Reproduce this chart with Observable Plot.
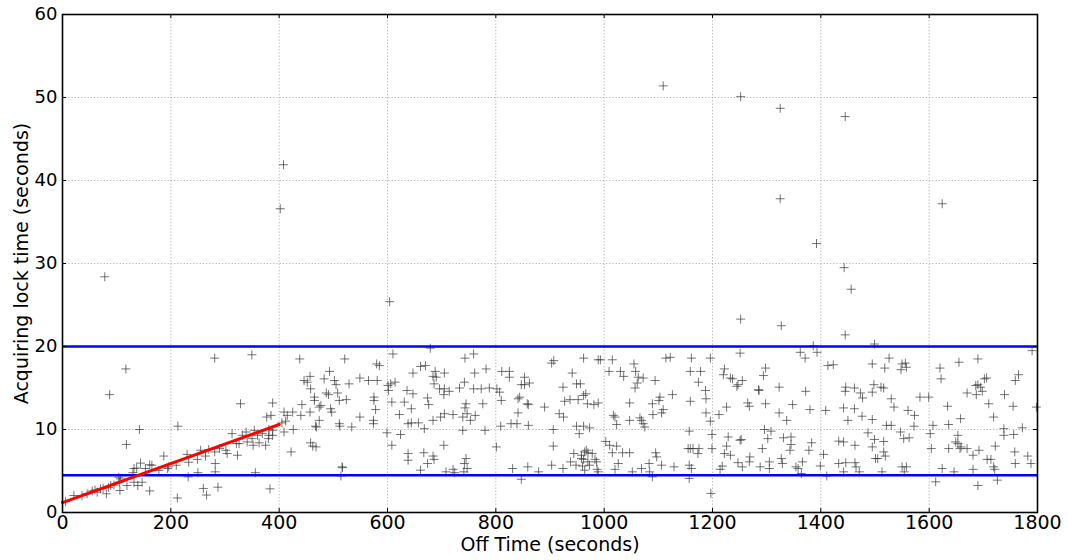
<!DOCTYPE html>
<html><head><meta charset="utf-8">
<script src="https://cdn.jsdelivr.net/npm/d3@7"></script>
<script src="https://cdn.jsdelivr.net/npm/@observablehq/plot@0.6"></script>
<style>body{margin:0;background:#fff} svg{display:block}</style>
</head><body><div id="chart"></div>
<script>
// Off time (s), acquiring lock time (s), by x range
const pts0to300 = [[5.5,1.3],[21,2.05],[36,2.05],[45.5,2.25],[55,2.6],[60,2.7],[64,2.45],[70,2.85],[75,2.9],[81,2.25],[85,3.0],[89,3.25],[95,3.3],[104,4.25],[105,3.65],[106,2.65],[107,4.05],[119,3.25],[132,3.65],[139,3.25],[147,3.65],[130,4.8],[132,5.3],[137,5.35],[144,5.95],[153,5.3],[161,5.75],[165,5.7],[178,5.05],[194,5.3],[196,5.5],[210,5.7],[233,6.05],[249,6.4],[264,6.8],[255,7.5],[270,7.6],[281,7.3],[290,7.7],[230,7.0],[187,6.8],[118,8.2],[142,10.0],[213,10.4],[117,17.3],[87,14.2],[281,18.6],[161,2.6],[212,1.75],[232,4.3],[250,4.8],[260,2.9],[266,2.1],[287,3.05],[282,4.9],[282,5.9],[78,28.4]];
const pts300to600 = [[313,9.5],[301.6,7.5],[304,7.1],[323,6.9],[321,8.3],[326,8.3],[332,9.3],[339,9.7],[341,8.5],[350,8.9],[352,8.1],[354,9.9],[360,9.3],[363,8.4],[369,9.5],[375,8.1],[380,8.9],[381,9.3],[388,9.3],[381,10.0],[388,9.9],[349.6,19.0],[328.6,13.1],[388,13.2],[385,11.7],[377,11.5],[409,12.1],[425,12.1],[415,11.7],[412,11.0],[405,10.8],[409,9.7],[426,10.0],[438,18.5],[521,18.5],[580,17.9],[585,17.7],[442,13.0],[440,11.7],[457,12.1],[446,15.9],[457,16.4],[452,15.7],[458,14.9],[465,13.9],[465,13.5],[474,12.7],[477,12.9],[483,16.1],[493,17.0],[502,15.9],[505,15.4],[487,14.4],[491,14.2],[508,14.4],[511,13.5],[524,13.6],[529,15.5],[495,12.5],[497,12.1],[474,11.1],[467,10.4],[469,10.3],[511,10.7],[512,10.4],[534,10.3],[549,16.2],[549,11.5],[565,15.9],[575,13.9],[575,13.5],[578,12.4],[574,11.1],[574,10.7],[581,15.9],[458,8.4],[462,8.0],[468,7.9],[422,7.3],[516,5.5],[517,5.4],[514,4.4],[356,4.8],[383,2.85],[402,36.6],[408,41.9]];
const pts600to900 = [[610,19.1],[679,19.8],[743,18.6],[759,19.1],[661,17.6],[670,17.7],[647,16.8],[688,17.0],[684,16.4],[690,16.3],[705,16.8],[761,16.8],[782,17.3],[811,17.0],[825,17.0],[825,16.3],[853,16.3],[847,15.4],[853,15.4],[862,15.6],[601,15.3],[606,15.5],[614,15.7],[602,14.7],[636,14.7],[647,14.3],[686,15.5],[696,14.9],[705,14.9],[704,14.2],[714,14.6],[733,15.0],[742,15.7],[759,14.9],[773,14.9],[788,15.0],[802,14.9],[807,14.5],[810,13.5],[841,13.7],[844,13.9],[858,13.1],[860,13.0],[890,12.7],[608,13.3],[631,13.3],[644,12.5],[674,13.8],[676,13.0],[622,11.8],[638,10.7],[644,10.8],[657,10.8],[668,10.1],[684,11.1],[698,11.5],[705,11.9],[721,11.8],[743,12.6],[745,13.1],[747,11.9],[739,11.5],[753,11.1],[762,11.7],[776,13.1],[739,9.9],[780,9.9],[809,10.4],[828,10.7],[839,10.7],[860,10.5],[841,12.0],[599,9.6],[624,9.4],[608,8.1],[704,8.1],[801,7.9],[638,7.1],[638,6.3],[667,7.2],[684,6.8],[686,6.4],[674,5.9],[745,6.5],[742,5.9],[661,5.1],[708,4.9],[721,5.2],[724,4.8],[741,4.9],[747,5.3],[831,5.3],[859,5.5],[879,4.9],[847,4.0],[604,25.4]];
const pts900to1200 = [[903,18.0],[907,18.3],[962,18.6],[989,18.4],[993,18.4],[1015,18.4],[1114,18.6],[1122,18.7],[1161,18.6],[941,16.8],[1009,17.0],[1030,17.0],[1036,16.4],[1055,17.9],[1058,17.0],[1063,16.3],[1072,16.2],[1094,15.9],[1061,15.6],[1057,15.0],[1159,17.0],[1178,17.0],[1174,15.7],[924,15.1],[949,15.5],[956,15.5],[966,14.3],[962,14.1],[937,13.6],[952,13.6],[927,13.4],[969,13.1],[981,13.0],[989,13.2],[1047,13.2],[1089,13.1],[1103,13.9],[1101,13.5],[1126,14.2],[1109,12.4],[1106,12.0],[1090,11.8],[1159,13.4],[1187,14.7],[1188,13.7],[917,11.9],[925,11.5],[1017,11.7],[1020,11.5],[1023,10.6],[1047,11.1],[1066,11.4],[1069,11.1],[1072,10.7],[1075,10.3],[949,10.4],[954,9.5],[962,10.4],[973,10.2],[906,10.0],[1157,9.8],[1188,12.0],[906,8.0],[1003,8.55],[1010,8.1],[1023,8.0],[1015,7.2],[1034,7.2],[1047,7.2],[944,7.1],[958,6.9],[964,7.3],[967,7.5],[970,7.2],[978,7.1],[983,6.4],[986,6.1],[958,6.5],[962,6.4],[970,6.1],[938,6.1],[948,5.7],[960,5.6],[973,5.7],[903,5.7],[924,5.3],[964,5.1],[987,5.2],[989,4.9],[1020,5.2],[1026,5.9],[1052,4.9],[1069,5.3],[1084,4.9],[1089,4.3],[1083,5.9],[1095,7.2],[1097,6.7],[1106,5.7],[1129,5.5],[1155,7.7],[1159,7.7],[1164,7.7],[1175,7.7],[1173,7.1],[1157,5.7],[1161,5.3],[1157,4.1],[1197,2.3],[1109,51.4]];
const pts1200to1500 = [[1251,19.2],[1362,19.3],[1371,18.6],[1393,19.3],[1386,20.1],[1196,18.6],[1222,17.3],[1220,16.6],[1233,16.2],[1237,16.1],[1255,15.9],[1247,15.4],[1245,15.2],[1298,17.4],[1294,16.5],[1285,14.8],[1286,14.7],[1323,15.1],[1372,14.6],[1413,17.7],[1423,17.8],[1446,15.1],[1462,15.0],[1473,14.4],[1477,13.8],[1445,14.6],[1226,12.7],[1212,11.8],[1265,13.2],[1268,12.8],[1298,13.1],[1323,12.0],[1348,13.0],[1337,11.1],[1380,12.4],[1409,12.3],[1442,12.6],[1462,12.5],[1450,11.1],[1476,11.6],[1196,11.0],[1199,9.4],[1296,10.0],[1308,9.8],[1302,8.9],[1229,9.1],[1251,8.7],[1253,8.8],[1331,9.0],[1345,9.1],[1345,8.2],[1343,7.5],[1383,8.4],[1378,7.5],[1226,8.0],[1199,7.7],[1292,7.7],[1433,8.6],[1442,8.5],[1463,8.1],[1487,9.6],[1222,7.1],[1233,6.9],[1269,6.7],[1268,6.1],[1405,7.0],[1327,6.5],[1329,5.9],[1247,6.0],[1305,6.1],[1366,6.1],[1218,5.6],[1214,5.2],[1255,5.5],[1288,5.5],[1305,5.3],[1354,5.5],[1358,5.3],[1399,5.6],[1433,5.9],[1446,6.0],[1463,6.0],[1465,5.5],[1471,4.9],[1442,4.9],[1364,4.7],[1411,4.4],[1252,50.1],[1325,48.7],[1325,37.8],[1392,32.4],[1445,47.7],[1443,29.5],[1456,26.9],[1445,21.4],[1252,23.3],[1327,22.5]];
const pts1500to1800 = [[1499,20.3],[1790,19.5],[1526,18.6],[1495,17.9],[1518,17.4],[1550,17.9],[1556,18.0],[1558,17.5],[1548,17.2],[1620,17.4],[1622,16.1],[1655,18.1],[1690,18.5],[1498,15.4],[1511,15.1],[1516,15.0],[1495,14.5],[1530,13.7],[1535,12.7],[1583,13.9],[1599,13.9],[1634,12.8],[1670,14.4],[1686,15.3],[1690,15.4],[1695,15.1],[1687,14.2],[1698,14.6],[1702,16.1],[1706,16.2],[1710,13.1],[1739,14.2],[1759,15.9],[1765,16.6],[1755,12.8],[1798,12.7],[1561,12.3],[1573,11.7],[1495,11.2],[1521,10.5],[1530,10.5],[1572,10.4],[1607,10.5],[1636,10.6],[1658,11.3],[1719,11.5],[1738,10.1],[1772,10.2],[1602,9.5],[1547,9.7],[1553,8.9],[1563,9.0],[1499,8.8],[1516,8.55],[1653,9.3],[1649,8.5],[1738,9.3],[1756,9.4],[1495,7.9],[1604,7.7],[1636,7.7],[1657,7.7],[1659,7.9],[1670,7.7],[1653,8.3],[1692,7.5],[1722,8.0],[1758,7.3],[1516,7.3],[1519,6.8],[1501,6.5],[1505,6.5],[1681,6.9],[1707,6.4],[1714,6.4],[1782,6.8],[1719,5.5],[1721,5.2],[1759,5.9],[1788,5.9],[1550,5.5],[1558,5.5],[1554,4.9],[1513,4.9],[1624,5.3],[1646,4.9],[1681,5.2],[1612,3.7],[1690,3.25],[1726,3.9],[1624,37.2]];

const fitOffTime = [0, 400];
const fitLockTime = [1.2, 10.6];
const thresholds = [4.5, 20];
const xTicks = [0, 200, 400, 600, 800, 1000, 1200, 1400, 1600, 1800];
const yTicks = [0, 10, 20, 30, 40, 50, 60];

const points = [].concat(pts0to300, pts300to600, pts600to900, pts900to1200, pts1200to1500, pts1500to1800)
  .map(([x, y]) => ({offTime: x, lockTime: y}));
const fit = fitOffTime.map((x, i) => ({offTime: x, lockTime: fitLockTime[i]}));

const gridStyle = {stroke: "#a0a0a0", strokeOpacity: 1, strokeWidth: 0.8, strokeDasharray: "1.2,2"};

const chart = Plot.plot({
  width: 1068, height: 560,
  marginLeft: 62, marginRight: 31, marginTop: 14, marginBottom: 48,
  style: {fontFamily: "DejaVu Sans, sans-serif", fontSize: "18px", color: "#000", background: "#fff"},
  x: {domain: [0, 1800]},
  y: {domain: [0, 60]},
  marks: [
    Plot.gridX(xTicks, gridStyle),
    Plot.gridY(yTicks, gridStyle),
    Plot.dot(points, {x: "offTime", y: "lockTime", symbol: "plus", r: 3, stroke: "#3a3a3a", strokeWidth: 0.7}),
    Plot.ruleY(thresholds, {stroke: "#0000ff", strokeWidth: 2.5}),
    Plot.line(fit, {x: "offTime", y: "lockTime", stroke: "#ff0000", strokeWidth: 3}),
    Plot.ruleX(xTicks, {x: d => d, y1: 0, y2: 0, insetBottom: 4, stroke: "#000"}),
    Plot.ruleX(xTicks, {x: d => d, y1: 60, y2: 60, insetTop: 4, stroke: "#000"}),
    Plot.ruleY(yTicks, {y: d => d, x1: 0, x2: 0, insetLeft: 4, stroke: "#000"}),
    Plot.ruleY(yTicks, {y: d => d, x1: 1800, x2: 1800, insetRight: 4, stroke: "#000"}),
    Plot.frame({stroke: "#000", strokeWidth: 1.6}),
    Plot.axisX(xTicks, {tickSize: 0, tickPadding: 3, fontSize: 19, tickFormat: d => String(d), label: "Off Time (seconds)", labelAnchor: "center", labelOffset: 38, labelArrow: "none"}),
    Plot.axisY(yTicks, {tickSize: 0, tickPadding: 5, fontSize: 18, tickFormat: d => String(d), label: "Acquiring lock time (seconds)", labelAnchor: "center", labelOffset: 48, labelArrow: "none"})
  ]
});
document.getElementById("chart").appendChild(chart);
d3.select(chart).selectAll('g[aria-label="x-axis label"] text, g[aria-label="y-axis label"] text').style("font-size", "19px");
</script></body></html>
